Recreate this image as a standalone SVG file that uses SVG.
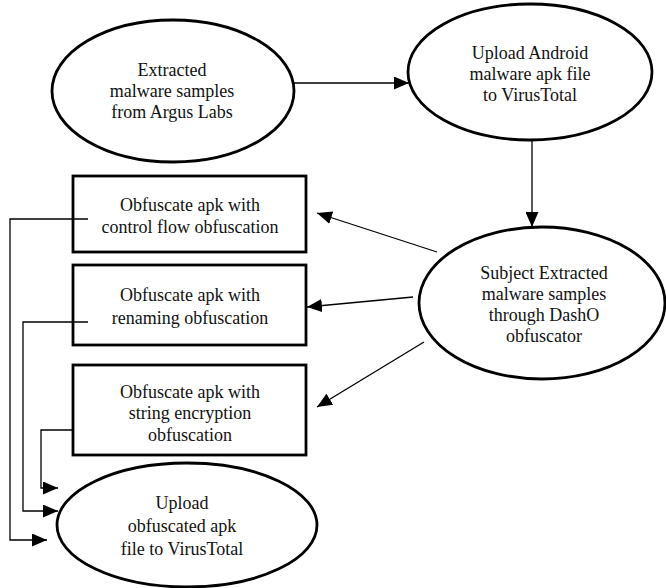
<svg xmlns="http://www.w3.org/2000/svg" width="666" height="588" viewBox="0 0 666 588">
<style>
.node{fill:#fff;stroke:#000;stroke-width:2.8}
.lbl{font-family:"Liberation Serif","Times New Roman","DejaVu Serif",serif;font-size:18px;fill:#111;text-anchor:middle}
.edge{fill:none;stroke:#000;stroke-width:1.3}
</style>
<defs>
<marker id="ah" markerUnits="userSpaceOnUse" markerWidth="16" markerHeight="13" refX="15" refY="6.5" orient="auto">
<path d="M0,0 L15,6.5 L0,13 z" fill="#000"/>
</marker>
</defs>
<rect width="666" height="588" fill="#fff"/>
<g id="extracted">
<ellipse class="node" cx="173" cy="91" rx="121" ry="71"/>
<text class="lbl" font-family="Liberation Serif, serif"><tspan x="172" y="76">Extracted</tspan><tspan x="172" y="97">malware samples</tspan><tspan x="172" y="118">from Argus Labs</tspan></text>
</g>
<g id="upload-android">
<ellipse class="node" cx="530" cy="72" rx="122" ry="68"/>
<text class="lbl" font-family="Liberation Serif, serif"><tspan x="530" y="59">Upload Android</tspan><tspan x="530" y="80">malware apk file</tspan><tspan x="530" y="101">to VirusTotal</tspan></text>
</g>
<g id="dasho">
<ellipse class="node" cx="542" cy="303" rx="123" ry="76"/>
<text class="lbl" font-family="Liberation Serif, serif"><tspan x="544" y="279">Subject Extracted</tspan><tspan x="544" y="300">malware samples</tspan><tspan x="544" y="321">through DashO</tspan><tspan x="544" y="342">obfuscator</tspan></text>
</g>
<g id="control-flow">
<rect class="node" x="73" y="176" width="233" height="76"/>
<text class="lbl" font-family="Liberation Serif, serif"><tspan x="190" y="211">Obfuscate apk with</tspan><tspan x="190" y="233">control flow obfuscation</tspan></text>
</g>
<g id="renaming">
<rect class="node" x="73" y="265" width="233" height="80"/>
<text class="lbl" font-family="Liberation Serif, serif"><tspan x="190" y="301">Obfuscate apk with</tspan><tspan x="190" y="324">renaming obfuscation</tspan></text>
</g>
<g id="string-encryption">
<rect class="node" x="73" y="365" width="233" height="90"/>
<text class="lbl" font-family="Liberation Serif, serif"><tspan x="190" y="398">Obfuscate apk with</tspan><tspan x="190" y="419">string encryption</tspan><tspan x="190" y="441">obfuscation</tspan></text>
</g>
<g id="upload-obfuscated">
<ellipse class="node" cx="187" cy="525" rx="130" ry="62"/>
<text class="lbl" font-family="Liberation Serif, serif"><tspan x="182" y="509">Upload</tspan><tspan x="182" y="532">obfuscated apk</tspan><tspan x="182" y="555">file to VirusTotal</tspan></text>
</g>
<g id="connectors">
<path class="edge" d="M294,83 L409,83" marker-end="url(#ah)"/>
<path class="edge" d="M532,140 L532,227" marker-end="url(#ah)"/>
<path class="edge" d="M437,252 L317,213" marker-end="url(#ah)"/>
<path class="edge" d="M413,297 L307,307" marker-end="url(#ah)"/>
<path class="edge" d="M424,342 L317,407" marker-end="url(#ah)"/>
<path class="edge" d="M88,219 L10,219 L10,540 L47,540" marker-end="url(#ah)"/>
<path class="edge" d="M88,322 L23,322 L23,511 L58,511" marker-end="url(#ah)"/>
<path class="edge" d="M73,430 L41,430 L41,488 L58,488" marker-end="url(#ah)"/>
</g>
</svg>
